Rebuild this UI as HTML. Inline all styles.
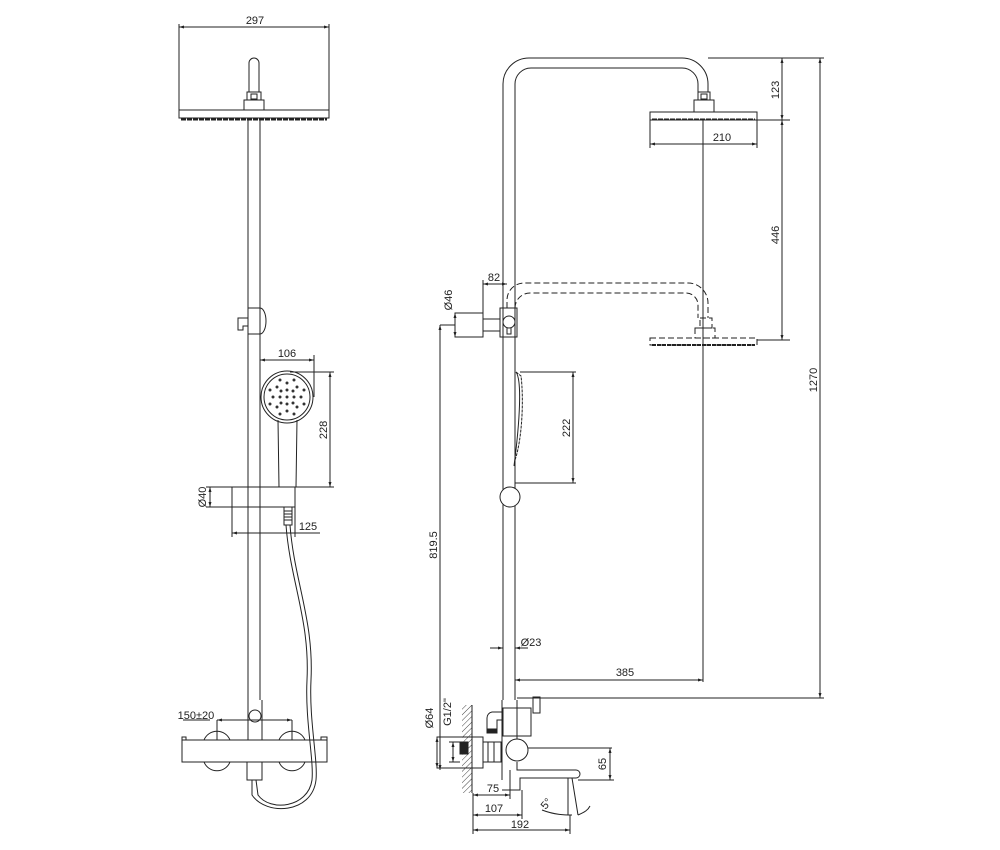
<!DOCTYPE html>
<html><head><meta charset="utf-8"><style>
html,body{margin:0;padding:0;background:#fff}
svg{display:block}
text{font-family:"Liberation Sans Narrow","Liberation Sans",sans-serif;font-size:11px;fill:#222}
</style></head><body>
<svg width="1000" height="850" viewBox="0 0 1000 850" xmlns="http://www.w3.org/2000/svg">
<defs>
<marker id="a" viewBox="0 0 10 10" refX="10" refY="5" markerWidth="7" markerHeight="5" orient="auto-start-reverse"><path d="M0,2 L10,5 L0,8z" fill="#222"/></marker>
<pattern id="h" width="4" height="4" patternUnits="userSpaceOnUse" patternTransform="rotate(45)"><line x1="0" y1="0" x2="0" y2="4" stroke="#444" stroke-width="1"/></pattern>
</defs>
<g fill="none" stroke="#222" stroke-width="1">
<!-- LEFT VIEW -->
<line x1="179" y1="27" x2="329" y2="27" marker-start="url(#a)" marker-end="url(#a)"/>
<line x1="179" y1="24" x2="179" y2="118"/><line x1="329" y1="24" x2="329" y2="118"/>
<rect x="179" y="110" width="150" height="8"/>
<line x1="181" y1="119.5" x2="327" y2="119.5" stroke-width="2" stroke-dasharray="5,1"/>
<path d="M249,92 V63 A5,5 0 0 1 259,63 V92"/>
<rect x="247" y="92" width="14" height="8"/><rect x="251" y="94" width="6" height="5"/>
<rect x="244" y="100" width="20" height="10"/>
<line x1="248" y1="120" x2="248" y2="700"/><line x1="260" y1="120" x2="260" y2="700"/>
<path d="M248,308 H260 A6,13 0 0 1 260,334 H248"/>
<path d="M248,318 H238 V330 H243 V326 H248"/>
<!-- hand shower -->
<circle cx="287" cy="397" r="26"/><circle cx="287" cy="397" r="23"/>
<path d="M278,420 L279,487 H296 L297,420"/>
<g fill="#333" stroke="none">
<circle cx="287" cy="397" r="1.5"/><circle cx="287" cy="390" r="1.5"/><circle cx="287" cy="404" r="1.5"/><circle cx="280" cy="397" r="1.5"/><circle cx="294" cy="397" r="1.5"/>
<circle cx="287" cy="383" r="1.5"/><circle cx="287" cy="411" r="1.5"/><circle cx="273" cy="397" r="1.5"/><circle cx="301" cy="397" r="1.5"/>
<circle cx="277" cy="387" r="1.5"/><circle cx="297" cy="387" r="1.5"/><circle cx="277" cy="407" r="1.5"/><circle cx="297" cy="407" r="1.5"/>
<circle cx="281" cy="391" r="1.5"/><circle cx="293" cy="391" r="1.5"/><circle cx="281" cy="403" r="1.5"/><circle cx="293" cy="403" r="1.5"/>
<circle cx="280" cy="380" r="1.5"/><circle cx="294" cy="380" r="1.5"/><circle cx="280" cy="414" r="1.5"/><circle cx="294" cy="414" r="1.5"/>
<circle cx="270" cy="390" r="1.5"/><circle cx="304" cy="390" r="1.5"/><circle cx="270" cy="404" r="1.5"/><circle cx="304" cy="404" r="1.5"/>
</g>
<line x1="260" y1="360" x2="314" y2="360" marker-start="url(#a)" marker-end="url(#a)"/>
<line x1="314" y1="355" x2="314" y2="397"/>
<line x1="330" y1="372" x2="330" y2="487" marker-start="url(#a)" marker-end="url(#a)"/>
<line x1="290" y1="372" x2="334" y2="372"/><line x1="296" y1="487" x2="334" y2="487"/>
<rect x="232" y="487" width="63" height="20"/>
<line x1="210" y1="487" x2="210" y2="507" marker-start="url(#a)" marker-end="url(#a)"/>
<line x1="206" y1="487" x2="232" y2="487"/><line x1="206" y1="507" x2="232" y2="507"/>
<line x1="232" y1="507" x2="232" y2="537"/><line x1="295" y1="507" x2="295" y2="537"/>
<line x1="232" y1="533" x2="320" y2="533" marker-start="url(#a)"/>
<rect x="284" y="507" width="8" height="18"/>
<path d="M284,511 H292 M284,514 H292 M284,517 H292 M284,520 H292"/>
<path d="M286,525 C290,580 310,620 307,680 C305,720 314,760 312,780 C308,808 270,812 258,795 L256,780"/>
<path d="M290,525 C294,580 314,620 311,680 C309,720 318,760 316,780 C312,814 266,816 252,795 L252,780"/>
<!-- mixer -->
<path d="M248,700 V740 M262,700 V740"/>
<circle cx="255" cy="716" r="6"/>
<rect x="182" y="740" width="145" height="22"/>
<rect x="182" y="737" width="4" height="3"/><rect x="321" y="737" width="6" height="3"/>
<path d="M204,740 A14,14 0 0 1 230,740 M204,762 A14,14 0 0 0 230,762"/>
<path d="M279,740 A14,14 0 0 1 305,740 M279,762 A14,14 0 0 0 305,762"/>
<rect x="247" y="762" width="15" height="18"/>
<line x1="217" y1="720" x2="292" y2="720" marker-start="url(#a)" marker-end="url(#a)"/>
<line x1="217" y1="720" x2="217" y2="740"/><line x1="292" y1="720" x2="292" y2="740"/>
<line x1="183" y1="720" x2="210" y2="720"/>

<!-- RIGHT VIEW -->
<path d="M503,700 V84 A26,26 0 0 1 529,58 H682 A26,26 0 0 1 708,84 V92"/>
<path d="M515,700 V84 A16,16 0 0 1 531,68 H682 A16,16 0 0 1 698,84 V92"/>
<rect x="698" y="92" width="12" height="8"/><rect x="701" y="94" width="6" height="5"/>
<rect x="694" y="100" width="20" height="12"/>
<rect x="650" y="112" width="107" height="8"/>
<line x1="652" y1="119.5" x2="755" y2="119.5" stroke-width="2" stroke-dasharray="5,1"/>
<line x1="650" y1="120" x2="650" y2="148"/><line x1="757" y1="120" x2="757" y2="148"/>
<line x1="650" y1="144" x2="757" y2="144" marker-start="url(#a)" marker-end="url(#a)"/>
<line x1="703" y1="120" x2="703" y2="682"/>
<line x1="708" y1="58" x2="824" y2="58"/><line x1="757" y1="120" x2="790" y2="120"/>
<line x1="782" y1="58" x2="782" y2="120" marker-start="url(#a)" marker-end="url(#a)"/>
<line x1="782" y1="120" x2="782" y2="340" marker-start="url(#a)" marker-end="url(#a)"/>
<line x1="757" y1="340" x2="790" y2="340"/>
<line x1="820" y1="58" x2="820" y2="698" marker-start="url(#a)" marker-end="url(#a)"/>
<!-- dashed arm -->
<g stroke-dasharray="6,3">
<path d="M507,308 V300 A17,17 0 0 1 524,283 H688 A20,20 0 0 1 708,303 V318"/>
<path d="M515,308 A15,15 0 0 1 530,293 H686 A12,12 0 0 1 698,305 V318"/>
<rect x="700" y="318" width="12" height="10"/>
<rect x="695" y="328" width="20" height="10"/>
<rect x="650" y="338" width="107" height="7"/>
</g>
<line x1="652" y1="345" x2="755" y2="345" stroke-width="2" stroke-dasharray="4,1"/>
<!-- wall bracket -->
<rect x="455" y="313" width="28" height="24"/>
<rect x="483" y="319" width="17" height="12"/>
<rect x="500" y="308" width="17" height="29"/>
<circle cx="509" cy="322" r="6"/>
<path d="M507,328 V334 H511 V328"/>
<line x1="483" y1="284" x2="507" y2="284" marker-start="url(#a)" marker-end="url(#a)"/>
<line x1="483" y1="280" x2="483" y2="313"/>
<line x1="455" y1="313" x2="455" y2="337" marker-start="url(#a)" marker-end="url(#a)"/>
<line x1="440" y1="325" x2="455" y2="325"/>
<line x1="440" y1="325" x2="440" y2="770" marker-start="url(#a)" marker-end="url(#a)"/>
<!-- hand shower side -->
<path d="M516,372 C522,380 520,420 514,466"/>
<path d="M516,372 L521,376 C524,400 522,440 515,460" stroke-dasharray="3,1"/>
<line x1="520" y1="372" x2="576" y2="372"/><line x1="515" y1="483" x2="576" y2="483"/>
<line x1="573" y1="372" x2="573" y2="483" marker-start="url(#a)" marker-end="url(#a)"/>
<circle cx="510" cy="497" r="10" fill="#fff"/>
<line x1="490" y1="648" x2="503" y2="648" marker-end="url(#a)"/>
<line x1="528" y1="648" x2="515" y2="648" marker-end="url(#a)"/>
<line x1="515" y1="680" x2="703" y2="680" marker-start="url(#a)" marker-end="url(#a)"/>
<!-- bottom mixer -->
<line x1="517" y1="698" x2="824" y2="698"/>
<rect x="533" y="697" width="7" height="16"/>
<path d="M502,700 V780 M517,700 V740"/>
<rect x="503" y="708" width="28" height="28"/>
<path d="M503,712 H492 A6,6 0 0 0 487,718 V732 H497 V720 H503"/>
<rect x="487" y="729" width="10" height="4" fill="#222"/>
<rect x="462" y="705" width="10" height="88" fill="url(#h)" stroke="none"/>
<line x1="472" y1="705" x2="472" y2="793"/>
<rect x="437" y="737" width="46" height="31"/>
<rect x="460" y="742" width="8" height="12" fill="#222"/>
<rect x="483" y="742" width="18" height="20"/>
<path d="M488,742 V762 M494,742 V762"/>
<circle cx="517" cy="750" r="11" fill="#fff"/>
<path d="M528,748 H612 M517,762 V770 H576 A4,4 0 0 1 576,778 H520 V790 H502"/>
<path d="M568,778 V815 M572,778 L578,815"/>
<line x1="610" y1="748" x2="610" y2="780" marker-start="url(#a)" marker-end="url(#a)"/>
<line x1="578" y1="780" x2="614" y2="780"/>
<path d="M542,810 C555,815 565,815 572,815 M578,815 C585,812 588,810 590,806"/>
<line x1="473" y1="793" x2="473" y2="834"/>
<line x1="510" y1="770" x2="510" y2="799"/><line x1="522" y1="790" x2="522" y2="819"/>
<line x1="473" y1="795" x2="510" y2="795" marker-start="url(#a)" marker-end="url(#a)"/>
<line x1="473" y1="815" x2="522" y2="815" marker-start="url(#a)" marker-end="url(#a)"/>
<line x1="473" y1="830" x2="570" y2="830" marker-start="url(#a)" marker-end="url(#a)"/>
<line x1="570" y1="815" x2="570" y2="834"/>
<line x1="437" y1="737" x2="437" y2="768" marker-start="url(#a)" marker-end="url(#a)"/>
<line x1="453" y1="742" x2="453" y2="762" marker-start="url(#a)" marker-end="url(#a)"/>
<line x1="449" y1="742" x2="460" y2="742"/><line x1="449" y1="762" x2="460" y2="762"/>
</g>
<!-- labels -->
<text x="255" y="24" text-anchor="middle">297</text>
<text x="287" y="357" text-anchor="middle">106</text>
<text transform="translate(327,430) rotate(-90)" text-anchor="middle">228</text>
<text transform="translate(206,497) rotate(-90)" text-anchor="middle">Ø40</text>
<text x="308" y="530" text-anchor="middle">125</text>
<text x="196" y="719" text-anchor="middle">150±20</text>
<text x="494" y="281" text-anchor="middle">82</text>
<text transform="translate(452,300) rotate(-90)" text-anchor="middle">Ø46</text>
<text transform="translate(437,545) rotate(-90)" text-anchor="middle">819.5</text>
<text transform="translate(570,428) rotate(-90)" text-anchor="middle">222</text>
<text x="531" y="646" text-anchor="middle">Ø23</text>
<text x="625" y="676" text-anchor="middle">385</text>
<text x="722" y="141" text-anchor="middle">210</text>
<text transform="translate(779,90) rotate(-90)" text-anchor="middle">123</text>
<text transform="translate(779,235) rotate(-90)" text-anchor="middle">446</text>
<text transform="translate(817,380) rotate(-90)" text-anchor="middle">1270</text>
<text transform="translate(433,718) rotate(-90)" text-anchor="middle">Ø64</text>
<text transform="translate(451,712) rotate(-90)" text-anchor="middle">G1/2"</text>
<text transform="translate(606,764) rotate(-90)" text-anchor="middle">65</text>
<text x="493" y="792" text-anchor="middle">75</text>
<text x="494" y="812" text-anchor="middle">107</text>
<text x="520" y="828" text-anchor="middle">192</text>
<text transform="translate(549,806) rotate(-50)" text-anchor="middle" font-size="10">5°</text>
</svg>
</body></html>
